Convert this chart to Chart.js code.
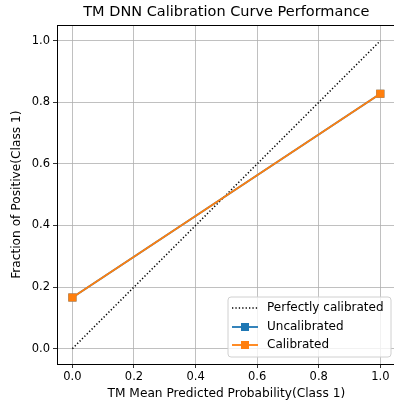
<!DOCTYPE html>
<html>
<head>
<meta charset="utf-8">
<script src="https://cdn.jsdelivr.net/npm/chart.js@4"></script>
<style>
  html, body { margin: 0; padding: 0; background: #fff; }
  #wrap { width: 394px; height: 406px; overflow: hidden; }
  canvas { display: block; }
</style>
</head>
<body>
<div id="wrap"><canvas id="calibChart" width="402" height="406"></canvas></div>
<script>
// Calibration curve data
const perfectX = [0.0, 1.0];
const perfectY = [0.0, 1.0];
const binMeans = [0.0, 1.0];
const uncalibrated = [0.166, 0.828];
const calibrated = [0.166, 0.828];
const tickValues = [0.0, 0.2, 0.4, 0.6, 0.8, 1.0];

const FONT = 'DejaVu Sans';

function toPoints(xs, ys) {
    return xs.map((x, i) => ({ x: x, y: ys[i] }));
}

// Frame plus an in-axes legend box in the lower right corner
const framePlugin = {
    id: 'frameAndLegend',
    afterDraw(chart) {
        const ctx = chart.ctx;
        const a = chart.chartArea;
        ctx.save();
        ctx.strokeStyle = '#000';
        ctx.lineWidth = 1;
        ctx.strokeRect(Math.round(a.left) + 0.5, Math.round(a.top) + 0.5,
            Math.round(a.right - a.left), Math.round(a.bottom - a.top));

        // legend
        const bx = 228, by = 297, bw = 163, bh = 60, r = 3;
        ctx.beginPath();
        ctx.moveTo(bx + r, by);
        ctx.arcTo(bx + bw, by, bx + bw, by + bh, r);
        ctx.arcTo(bx + bw, by + bh, bx, by + bh, r);
        ctx.arcTo(bx, by + bh, bx, by, r);
        ctx.arcTo(bx, by, bx + bw, by, r);
        ctx.closePath();
        ctx.fillStyle = 'rgba(255,255,255,0.8)';
        ctx.fill();
        ctx.strokeStyle = '#d0d0d0';
        ctx.lineWidth = 1;
        ctx.stroke();

        const rowY = [308, 327, 345];
        chart.data.datasets.forEach((ds, i) => {
            const y = rowY[i];
            ctx.strokeStyle = ds.borderColor;
            ctx.lineWidth = ds.borderWidth;
            ctx.setLineDash(ds.borderDash || []);
            ctx.beginPath();
            ctx.moveTo(232, y);
            ctx.lineTo(258, y);
            ctx.stroke();
            ctx.setLineDash([]);
            if (ds.pointRadius > 0) {
                ctx.fillStyle = ds.pointBackgroundColor;
                ctx.fillRect(245 - 4, y - 4, 8, 8);
            }
            ctx.fillStyle = '#000';
            ctx.font = '12px "' + FONT + '"';
            ctx.textBaseline = 'middle';
            ctx.textAlign = 'left';
            ctx.fillText(ds.label, 267, y);
        });
        ctx.restore();
    }
};

const ctx = document.getElementById('calibChart').getContext('2d');
const calibChart = new Chart(ctx, {
    type: 'scatter',
    data: {
        datasets: [{
            label: 'Perfectly calibrated',
            data: toPoints(perfectX, perfectY),
            showLine: true,
            borderColor: '#000',
            borderWidth: 1.5,
            borderDash: [1.3, 2.1],
            pointRadius: 0,
            order: 3
        }, {
            label: 'Uncalibrated',
            data: toPoints(binMeans, uncalibrated),
            showLine: true,
            borderColor: '#1f77b4',
            borderWidth: 1.8,
            pointStyle: 'rect',
            pointRadius: 4.5,
            pointBackgroundColor: '#1f77b4',
            pointBorderColor: '#1f77b4',
            order: 2
        }, {
            label: 'Calibrated',
            data: toPoints(binMeans, calibrated),
            showLine: true,
            borderColor: '#ff7f0e',
            borderWidth: 1.8,
            pointStyle: 'rect',
            pointRadius: 4.5,
            pointBackgroundColor: '#ff7f0e',
            pointBorderColor: '#ff7f0e',
            order: 1
        }]
    },
    options: {
        responsive: false,
        animation: false,
        layout: { padding: 0 },
        plugins: {
            legend: { display: false },
            tooltip: { enabled: false },
            title: {
                display: true,
                fullSize: false,
                text: 'TM DNN Calibration Curve Performance',
                color: '#000',
                font: { family: FONT, size: 14.5, weight: 'normal' },
                padding: { top: 4, bottom: 4 }
            }
        },
        scales: {
            x: {
                type: 'linear',
                min: -0.05,
                max: 1.05,
                afterBuildTicks: (axis) => { axis.ticks = tickValues.map(v => ({ value: v })); },
                afterFit: (axis) => {
                    axis.height = 42;
                    axis.paddingLeft = 0;
                    axis.paddingRight = 0;
                },
                ticks: {
                    color: '#000',
                    font: { family: FONT, size: 11.5 },
                    padding: 2,
                    maxRotation: 0,
                    callback: (v) => v.toFixed(1)
                },
                grid: { color: '#b0b0b0', lineWidth: 0.8, tickColor: '#000', tickLength: 4 },
                border: { display: false },
                title: {
                    display: true,
                    text: 'TM Mean Predicted Probability(Class 1)',
                    color: '#000',
                    font: { family: FONT, size: 12.2 },
                    padding: { top: 2, bottom: 5 }
                }
            },
            y: {
                type: 'linear',
                min: -0.05,
                max: 1.05,
                afterBuildTicks: (axis) => { axis.ticks = tickValues.map(v => ({ value: v })); },
                afterFit: (axis) => {
                    axis.width = 57;
                    axis.paddingTop = 0;
                    axis.paddingBottom = 0;
                },
                ticks: {
                    color: '#000',
                    font: { family: FONT, size: 11.5 },
                    padding: 3,
                    callback: (v) => v.toFixed(1)
                },
                grid: { color: '#b0b0b0', lineWidth: 0.8, tickColor: '#000', tickLength: 4 },
                border: { display: false },
                title: {
                    display: true,
                    text: 'Fraction of Positive(Class 1)',
                    color: '#000',
                    font: { family: FONT, size: 12.2 },
                    padding: { top: 10, bottom: 2 }
                }
            }
        }
    },
    plugins: [framePlugin]
});
</script>
</body>
</html>
